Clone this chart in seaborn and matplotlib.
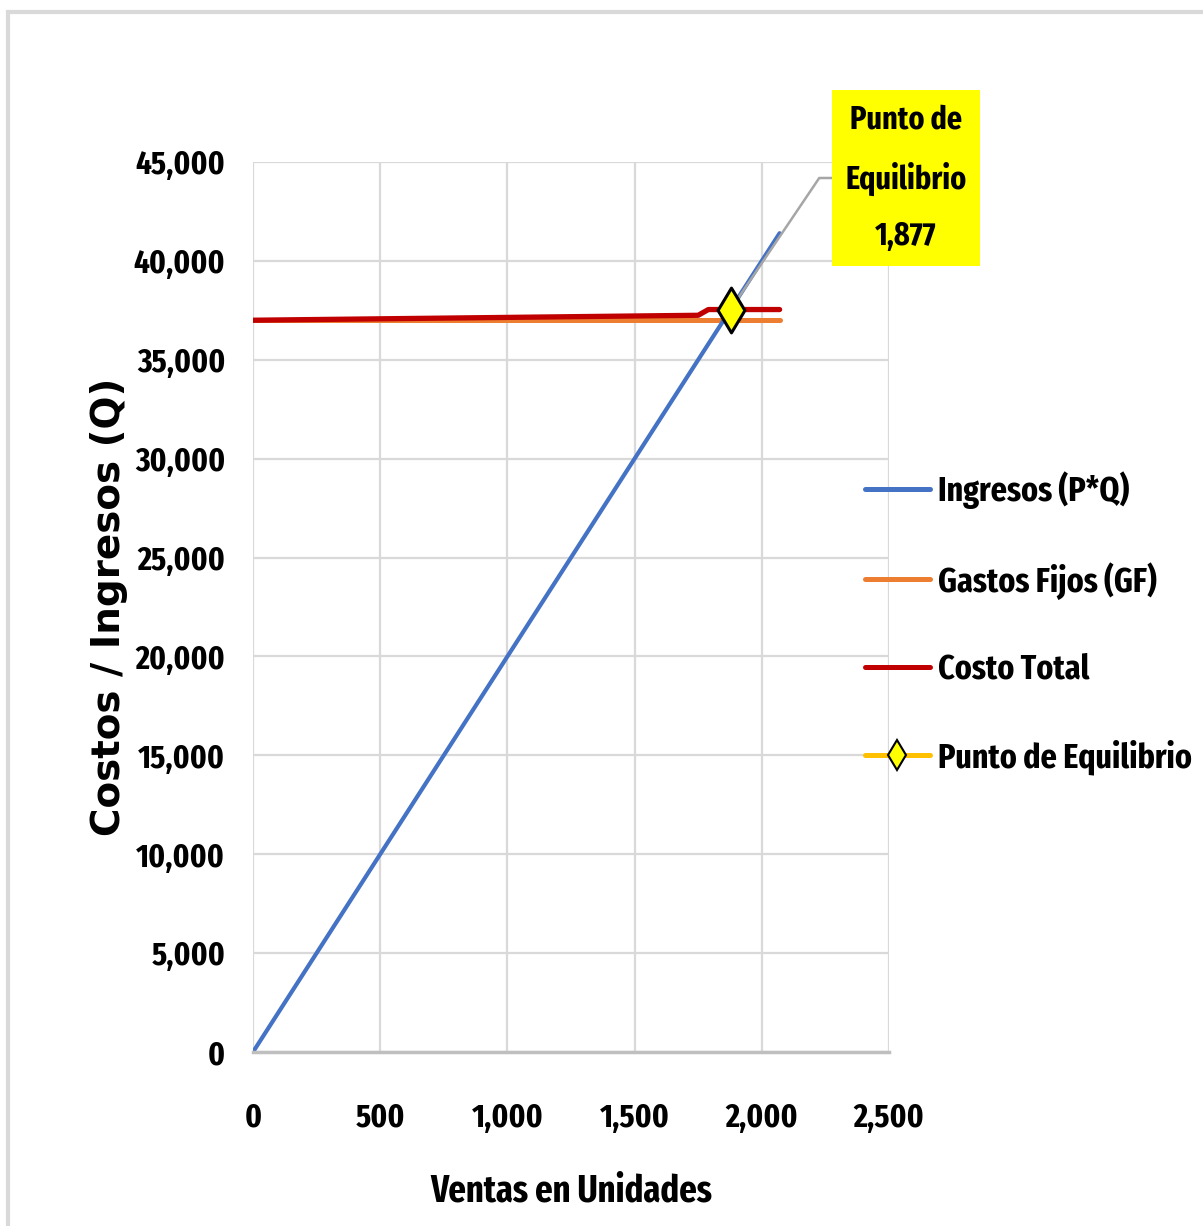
import matplotlib
matplotlib.use("Agg")
import matplotlib.pyplot as plt
import seaborn as sns
import pandas as pd
from matplotlib.ticker import FuncFormatter
from matplotlib.lines import Line2D
from matplotlib.patches import Rectangle

# --- data -------------------------------------------------------------
ingresos_q = [0, 1877, 2070]
ingresos_v = [0, 37540, 41400]

gastos_q = [0, 2070]
gastos_v = [37000, 37000]

costo_q = [0, 1750, 1790, 2070]
costo_v = [37000, 37250, 37540, 37540]

equilibrio_q = [1877]
equilibrio_v = [37540]

series_names = ["Ingresos (P*Q)", "Gastos Fijos (GF)", "Costo Total", "Punto de Equilibrio"]
series_colors = ["#4472C4", "#ED7D31", "#C00000", "#FFC000"]

x_ticks = [0, 500, 1000, 1500, 2000, 2500]
y_ticks = [0, 5000, 10000, 15000, 20000, 25000, 30000, 35000, 40000, 45000]

# --- style ------------------------------------------------------------
sns.set_theme(style="white")
narrow = ["Fira Sans Extra Condensed", "DejaVu Sans"]
plt.rcParams["font.family"] = narrow

fig = plt.figure(figsize=(12.03, 12.26), dpi=100)
W, H = 1203, 1226
ax = fig.add_axes([253 / W, 1 - 1052 / H, (889 - 253) / W, (1052 - 162) / H])

df_ing = pd.DataFrame({"q": ingresos_q, "v": ingresos_v})
df_gf = pd.DataFrame({"q": gastos_q, "v": gastos_v})
df_ct = pd.DataFrame({"q": costo_q, "v": costo_v})
df_pe = pd.DataFrame({"q": equilibrio_q, "v": equilibrio_v})

sns.lineplot(data=df_gf, x="q", y="v", ax=ax, color=series_colors[1], linewidth=3.6, legend=False)
sns.lineplot(data=df_ct, x="q", y="v", ax=ax, color=series_colors[2], linewidth=3.8, legend=False)
sns.lineplot(data=df_ing, x="q", y="v", ax=ax, color=series_colors[0], linewidth=3.0, legend=False)

# leader line + label for the break-even point
pe_x, pe_y = equilibrio_q[0], equilibrio_v[0]
ax.annotate(
    f"Punto de\nEquilibrio\n{pe_x:,}",
    xy=(pe_x, pe_y), xycoords="data",
    xytext=(906, H - 178), textcoords="figure pixels",
    ha="center", va="center", fontsize=23.5, fontweight="bold",
    family=narrow, linespacing=1.98, color="black",
    bbox=dict(boxstyle="square,pad=0.42", fc="#FFFF00", ec="none"),
    arrowprops=dict(arrowstyle="-", color="#A6A6A6", lw=1.8,
                    connectionstyle="angle,angleA=0,angleB=56,rad=0",
                    shrinkA=0, shrinkB=0),
    zorder=6,
)

sns.scatterplot(data=df_pe, x="q", y="v", ax=ax, marker="d", s=520,
                color="#FFFF00", edgecolor="black", linewidth=2.2, zorder=7, legend=False)

# --- axes -------------------------------------------------------------
ax.set_xlim(0, 2500)
ax.set_ylim(0, 45000)
ax.set_xticks(x_ticks)
ax.set_yticks(y_ticks)
fmt = FuncFormatter(lambda v, p: f"{int(v):,}")
ax.xaxis.set_major_formatter(fmt)
ax.yaxis.set_major_formatter(fmt)
ax.grid(True, color="#D9D9D9", linewidth=1.6)
ax.set_axisbelow(True)
for s in ["top", "right", "left"]:
    ax.spines[s].set_visible(False)
ax.spines["bottom"].set_color("#BFBFBF")
ax.spines["bottom"].set_linewidth(2.5)
ax.tick_params(axis="both", length=0, labelsize=24, labelcolor="black")
ax.tick_params(axis="y", pad=20)
ax.tick_params(axis="x", pad=36)
for lab in ax.get_xticklabels() + ax.get_yticklabels():
    lab.set_fontweight("bold")

ax.set_xlabel("Ventas en Unidades", fontsize=27, fontweight="bold", labelpad=28, color="black")
ax.set_ylabel("Costos / Ingresos (Q)", fontsize=28, fontweight="bold",
              family=["DejaVu Sans"], labelpad=4, color="black")

# --- legend -----------------------------------------------------------
handles = [
    Line2D([], [], color=series_colors[0], lw=3.6),
    Line2D([], [], color=series_colors[1], lw=3.6),
    Line2D([], [], color=series_colors[2], lw=3.6),
    Line2D([], [], color=series_colors[3], lw=3.6, marker="d", markersize=15,
           markerfacecolor="#FFFF00", markeredgecolor="black", markeredgewidth=1.5),
]
leg = fig.legend(handles, series_names, loc="upper left",
                 bbox_to_anchor=(865 / W, 1 - 471 / H), frameon=False,
                 prop=dict(family=narrow, weight="bold", size=25),
                 handlelength=1.87, handletextpad=0.23, labelspacing=1.53,
                 borderpad=0, borderaxespad=0)
for t in leg.get_texts():
    t.set_color("black")

# outer chart frame
fig.patches.append(Rectangle((8 / W, -0.05), 1.2, 1 - 12 / H + 0.05,
                             transform=fig.transFigure, fill=False,
                             ec="#D9D9D9", lw=3, zorder=0))

fig.savefig("out.png", dpi=100, facecolor="white")
